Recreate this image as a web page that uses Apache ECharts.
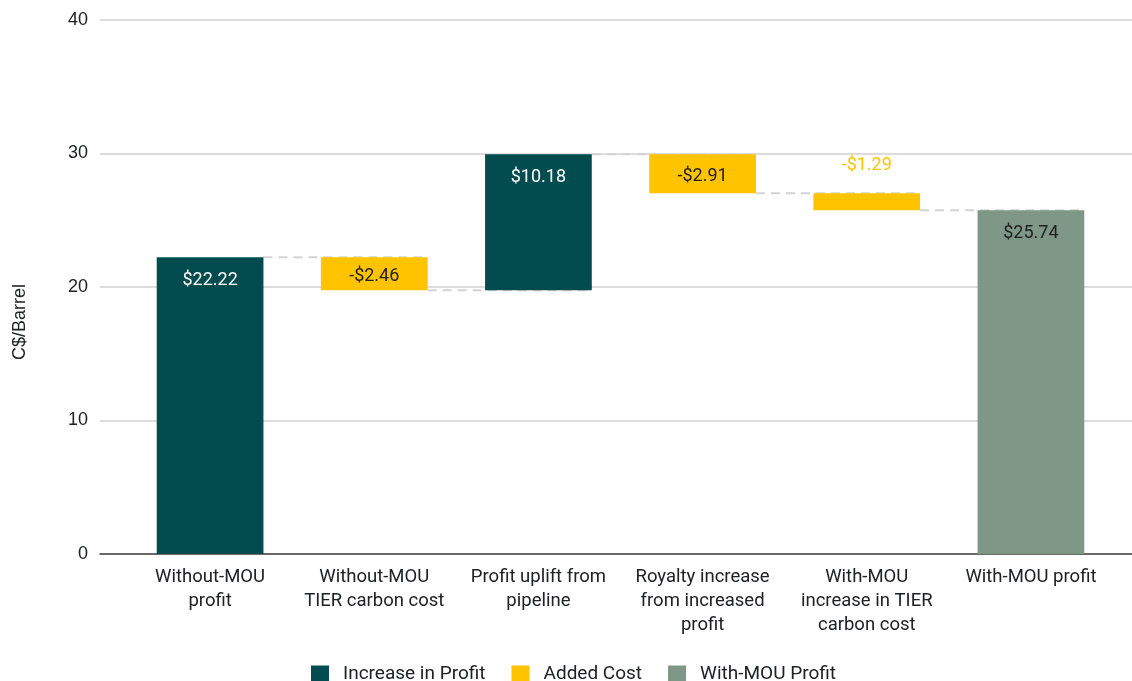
<!DOCTYPE html>
<html>
<head>
<meta charset="utf-8">
<script src="https://cdn.jsdelivr.net/npm/echarts@6/dist/echarts.min.js"></script>
<style>
  html, body { margin: 0; padding: 0; background: #fff; }
  #chart { width: 1132px; height: 681px; }
</style>
</head>
<body>
<div id="chart"></div>
<script>
// Profit bridge per barrel, without vs. with the MOU
const categories = [
  'Without-MOU\nprofit',
  'Without-MOU\nTIER carbon cost',
  'Profit uplift from\npipeline',
  'Royalty increase\nfrom increased\nprofit',
  'With-MOU\nincrease in TIER\ncarbon cost',
  'With-MOU profit'
];
const changes = [22.22, -2.46, 10.18, -2.91, -1.29, 25.74];
const kinds = ['increase', 'cost', 'increase', 'cost', 'cost', 'total'];
const yTicks = [0, 10, 20, 30, 40];
const seriesNames = ['Increase in Profit', 'Added Cost', 'With-MOU Profit'];

const COLORS = { increase: '#024b4f', cost: '#ffc300', total: '#7e9787' };
const FONT = 'Roboto, "Noto Sans", sans-serif';

// Running totals: invisible base, visible step, and the level after each step
const base = [], inc = [], cost = [], total = [], levels = [];
let run = 0;
changes.forEach((v, i) => {
  const k = kinds[i];
  if (k === 'total') {
    base.push(0); inc.push('-'); cost.push('-'); total.push(v);
    run = v;
  } else if (v >= 0) {
    base.push(run); inc.push(v); cost.push('-'); total.push('-');
    run += v;
  } else {
    run += v;
    base.push(+run.toFixed(2)); inc.push('-'); cost.push(-v); total.push('-');
  }
  levels.push(+run.toFixed(2));
});

function posLabel(color) {
  return { show: true, position: 'insideTop', distance: 14, color: color,
           fontFamily: FONT, fontSize: 18,
           formatter: p => '$' + Number(p.value).toFixed(2) };
}

function costLabel(v) {
  const size = Math.abs(v);
  if (size < 2) {
    return { show: true, position: 'top', distance: 19, color: COLORS.cost };
  }
  return { show: true, position: 'inside', offset: [0, 3], color: '#202124' };
}

const option = {
  animation: false,
  backgroundColor: '#ffffff',
  grid: [
    { left: 100, right: 0, top: 20, bottom: 127 },
    { left: 128, right: 19, top: 20, bottom: 127 }
  ],
  xAxis: [
    { type: 'value', gridIndex: 0, min: 0, max: 1,
      axisLine: { show: true, onZero: false, lineStyle: { color: '#444', width: 1.5 } },
      axisTick: { show: false }, axisLabel: { show: false }, splitLine: { show: false } },
    { type: 'category', gridIndex: 1, data: categories,
      axisLine: { show: false }, axisTick: { show: false },
      axisLabel: { interval: 0, margin: 11, color: '#202124', fontFamily: FONT,
                   fontSize: 18.5, lineHeight: 24 } }
  ],
  yAxis: [
    { type: 'value', gridIndex: 0, min: yTicks[0], max: yTicks[yTicks.length - 1],
      interval: yTicks[1] - yTicks[0],
      axisLine: { show: false }, axisTick: { show: false },
      axisLabel: { color: '#202124', fontFamily: '"Liberation Sans", Arial, sans-serif',
                   fontSize: 18, margin: 12 },
      splitLine: { lineStyle: { color: '#d0d0d0', width: 1.5 } } },
    { type: 'value', gridIndex: 1, min: yTicks[0], max: yTicks[yTicks.length - 1],
      show: false, splitLine: { show: false } }
  ],
  legend: {
    data: seriesNames,
    left: 306, top: 660,
    icon: 'rect', itemWidth: 18, itemHeight: 18, itemGap: 26,
    textStyle: { color: '#202124', fontFamily: FONT, fontSize: 19, padding: [0, 0, 0, 9] }
  },
  graphic: [{
    type: 'text', x: 20, y: 322, rotation: Math.PI / 2,
    style: { text: 'C$/Barrel', align: 'center', verticalAlign: 'middle',
             fill: '#202124', font: '18px "Liberation Sans", Arial, sans-serif' }
  }],
  series: [
    { name: 'base', type: 'bar', stack: 'w', xAxisIndex: 1, yAxisIndex: 1,
      barWidth: '65%', data: base, itemStyle: { color: 'transparent' },
      emphasis: { disabled: true }, silent: true },
    { name: seriesNames[0], type: 'bar', stack: 'w', xAxisIndex: 1, yAxisIndex: 1,
      barWidth: '65%', data: inc, z: 3,
      itemStyle: { color: COLORS.increase }, label: posLabel('#ffffff') },
    { name: seriesNames[1], type: 'bar', stack: 'w', xAxisIndex: 1, yAxisIndex: 1,
      barWidth: '65%', z: 3,
      data: cost.map((v, i) => v === '-' ? '-' : { value: v, label: costLabel(v) }),
      itemStyle: { color: COLORS.cost },
      label: { show: true, fontFamily: FONT, fontSize: 18,
               formatter: p => '-$' + Number(p.value).toFixed(2) } },
    { name: seriesNames[2], type: 'bar', stack: 'w', xAxisIndex: 1, yAxisIndex: 1,
      barWidth: '65%', data: total, z: 3,
      itemStyle: { color: COLORS.total }, label: posLabel('#202124') },
    // dashed connectors from each bar's end level to the next bar
    { name: 'connectors', type: 'custom', xAxisIndex: 1, yAxisIndex: 1, z: 2,
      silent: true,
      data: levels.slice(0, -1).map((lv, i) => [i, lv]),
      renderItem: (params, api) => {
        const i = api.value(0), lv = api.value(1);
        const band = api.size([1, 0])[0];
        const half = band * 0.65 / 2;
        const p0 = api.coord([i, lv]);
        const p1 = api.coord([i + 1, lv]);
        return {
          type: 'line',
          shape: { x1: p0[0] + half, y1: p0[1], x2: p1[0] + half, y2: p1[1] },
          style: { stroke: '#d3d3d3', lineWidth: 2, lineDash: [9, 6] }
        };
      }
    }
  ]
};

const chart = echarts.init(document.getElementById('chart'), null, { renderer: 'canvas' });
chart.setOption(option);
</script>
</body>
</html>
